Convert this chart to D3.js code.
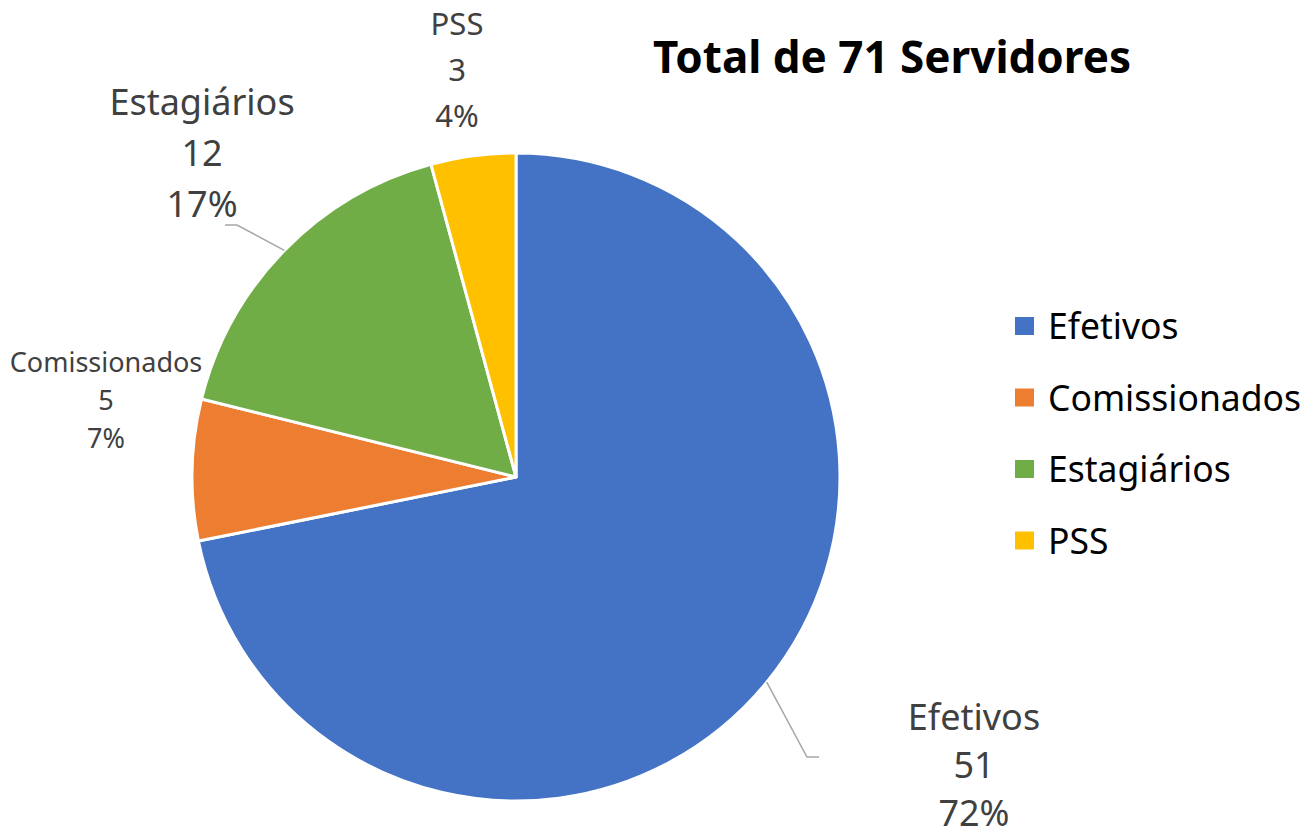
<!DOCTYPE html>
<meta charset="utf-8">

<!-- Load d3.js -->
<script src="https://d3js.org/d3.v7.min.js"></script>

<style>
  body { margin: 0; background: #fff; }
  text { font-family: "Noto Sans", "Open Sans", sans-serif; }
</style>

<!-- Create a div where the graph will take place -->
<div id="my_dataviz"></div>

<script>

// data
var categories = ["Efetivos", "Comissionados", "Estagiários", "PSS"];
var values = [51, 5, 12, 3];
var colors = ["#4472C4", "#ED7D31", "#70AD47", "#FFC000"];
var titleText = "Total de 71 Servidores";

// dimensions
var width = 1316,
    height = 838,
    cx = 516,
    cy = 477,
    radius = 324;

var svg = d3.select("#my_dataviz")
  .append("svg")
    .attr("width", width)
    .attr("height", height);

var g = svg.append("g")
    .attr("transform", "translate(" + cx + "," + cy + ")");

var total = d3.sum(values);

var color = d3.scaleOrdinal()
  .domain(categories)
  .range(colors);

var pie = d3.pie()
  .sort(null)
  .value(function(d) { return d.value; });

var data = categories.map(function(c, i) { return {name: c, value: values[i]}; });
var arcs = pie(data);

var arc = d3.arc()
  .innerRadius(0)
  .outerRadius(radius);

// slices
g.selectAll("slices")
  .data(arcs)
  .enter()
  .append("path")
    .attr("d", arc)
    .attr("fill", function(d) { return color(d.data.name); })
    .attr("stroke", "#fff")
    .attr("stroke-width", 3)
    .attr("stroke-linejoin", "round");

// label placement (offsets from pie centre), font size, line spacing, leader line elbow
var labelPos = {
  "Efetivos":      {x: 458, y: 253, size: 36, gap: 48, line: [[291, 280], [303, 280]]},
  "Comissionados": {x: -410, y: -105, size: 27, gap: 38},
  "Estagiários":   {x: -314, y: -362, size: 36, gap: 51, line: [[-279, -252], [-291, -252]]},
  "PSS":           {x: -59, y: -442, size: 31, gap: 46}
};

// leader lines, starting on the slice edge at its middle angle
arcs.forEach(function(d) {
  var p = labelPos[d.data.name];
  if (!p.line) return;
  var mid = (d.startAngle + d.endAngle) / 2;
  var start = [Math.sin(mid) * radius, -Math.cos(mid) * radius];
  g.append("path")
    .attr("d", d3.line()([start].concat(p.line)))
    .attr("fill", "none")
    .attr("stroke", "#a6a6a6")
    .attr("stroke-width", 1.5);
});

// data labels
arcs.forEach(function(d) {
  var p = labelPos[d.data.name];
  var lines = [d.data.name, d.data.value, Math.round(d.data.value / total * 100) + "%"];
  var t = g.append("text")
    .attr("text-anchor", "middle")
    .style("font-size", p.size + "px")
    .style("fill", "#404040");
  lines.forEach(function(l, i) {
    t.append("tspan")
      .attr("x", p.x)
      .attr("y", p.y + i * p.gap)
      .text(l);
  });
});

// title
svg.append("text")
  .attr("x", 892)
  .attr("y", 73)
  .attr("text-anchor", "middle")
  .style("font-size", "44px")
  .style("font-weight", "bold")
  .style("fill", "#000")
  .text(titleText);

// legend
var legend = svg.append("g")
  .attr("transform", "translate(1015,326)");

legend.selectAll("mydots")
  .data(categories)
  .enter()
  .append("rect")
    .attr("x", 0)
    .attr("y", function(d, i) { return i * 71.5 - 9; })
    .attr("width", 19)
    .attr("height", 18)
    .style("fill", function(d) { return color(d); });

legend.selectAll("mylabels")
  .data(categories)
  .enter()
  .append("text")
    .attr("x", 33)
    .attr("y", function(d, i) { return i * 71.5 + 13; })
    .style("font-size", "35.5px")
    .style("fill", "#000")
    .text(function(d) { return d; });

</script>
